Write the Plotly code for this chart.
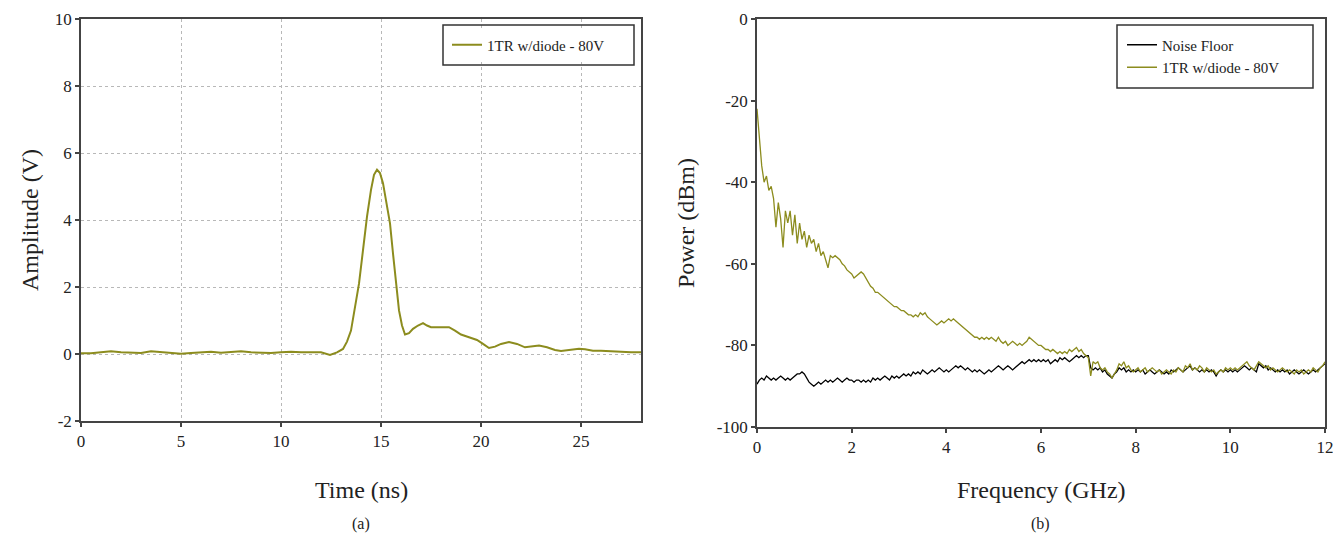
import plotly.graph_objects as go

# (a) time-domain pulse
time_ns = [0, 0.5, 1.0, 1.5, 2.0, 2.5, 3.0, 3.5, 4.0, 4.5, 5.0, 5.5, 6.0, 6.5, 7.0, 7.5, 8.0, 8.5, 9.0, 9.5,
           10.0, 10.5, 11.0, 11.5, 12.0, 12.45, 12.8, 13.1, 13.3, 13.5, 13.7, 13.9, 14.1, 14.3, 14.5,
           14.65, 14.8, 14.95, 15.1, 15.3, 15.45, 15.6, 15.75, 15.9, 16.05, 16.2, 16.4, 16.6, 16.85, 17.1,
           17.3, 17.5, 17.9, 18.4, 18.7, 19.0, 19.4, 19.8, 20.1, 20.4, 20.7, 21.0, 21.4, 21.8, 22.2,
           22.6, 22.9, 23.3, 23.7, 24.0, 24.4, 24.9, 25.2, 25.6, 26.0, 26.6, 27.0, 27.5, 28.0]
amplitude_v = [0.02, 0.02, 0.05, 0.08, 0.05, 0.03, 0.03, 0.08, 0.05, 0.03, 0.01, 0.03, 0.05, 0.07, 0.04,
               0.05, 0.08, 0.05, 0.03, 0.03, 0.05, 0.07, 0.05, 0.05, 0.05, -0.03, 0.05, 0.15, 0.37, 0.7,
               1.4, 2.1, 3.1, 4.1, 4.9, 5.35, 5.5, 5.4, 5.1, 4.4, 3.9, 3.0, 2.2, 1.3, 0.85,
               0.58, 0.62, 0.75, 0.85, 0.92, 0.85, 0.8, 0.8, 0.8, 0.7, 0.58, 0.5, 0.42, 0.3, 0.18,
               0.22, 0.3, 0.36, 0.3, 0.2, 0.22, 0.25, 0.2, 0.12, 0.09, 0.12, 0.16, 0.14, 0.1, 0.1,
               0.09, 0.07, 0.05, 0.05]
time_ticks = [0, 5, 10, 15, 20, 25]
amp_ticks = [-2, 0, 2, 4, 6, 8, 10]

# (b) spectrum, sampled every 0.05 GHz from 0 to 12 GHz
freq_ghz = [round(i * 0.05, 2) for i in range(241)]
pulse_dbm = [
    -22, -30, -36, -40, -38.5, -42, -41, -44, -51, -45, -49, -56, -47, -50, -47, -53, -48, -55, -50, -54,
    -52, -56, -53, -55, -54, -57, -55, -58, -57, -59, -61, -58, -58.5, -58, -58.5, -59, -60, -60.5, -61.5, -62,
    -62.5, -63.5, -63, -62.5, -62, -62.5, -63.5, -64.5, -65.5, -66, -67, -67, -67.5, -68, -68.5, -69, -69.5, -70, -70.5, -70.5,
    -71, -71.5, -71.5, -72, -72.5, -72.5, -73, -72.5, -73, -72, -72.5, -72, -73, -73.5, -74, -74.5, -75, -74.5, -74, -74.5,
    -74, -73.5, -74, -73.5, -74, -74.5, -75, -75.5, -76, -76.5, -77, -77.5, -78, -78, -78.5, -78, -78.5, -78, -78.5, -78,
    -78.5, -79, -78, -79, -79.5, -79, -80, -79.5, -79, -79.5, -80, -79.5, -80, -79.5, -79, -78, -78.5, -79, -79.5, -80,
    -80, -80.5, -81, -81, -81.5, -81, -81.5, -82, -81.5, -82, -81.5, -82, -81, -81.5, -81, -80.5, -81.5, -81, -82, -82.5,
    -83, -87.5, -84, -84.5, -84, -85.5, -86, -85.5, -86.5, -87, -88, -87, -86, -84.5, -85, -84, -85.5, -85, -86, -86.5,
    -86, -85.5, -86.5, -86, -85.5, -86.5, -86, -85.5, -86, -86.5, -86, -87, -86.5, -86, -86.5, -87, -86, -86.5, -85.5, -86,
    -86.5, -85, -85.5, -84.5, -86, -85.5, -86, -85, -85.5, -86.5, -85.5, -86, -86.5, -86, -87, -86.5, -86, -86.5, -85.5, -86,
    -85.5, -86, -85.5, -86, -85.5, -85, -84.5, -84, -85, -85.5, -86, -85, -84, -84.5, -85, -85.5, -85, -86, -85.5, -86,
    -86.5, -86, -85.5, -86, -86.5, -86, -86.5, -87, -86, -86.5, -86, -87, -86.5, -86, -86.5, -85.5, -86, -86.5, -85.5, -85,
    -84]
noise_dbm = [
    -89.5, -88.5, -88, -88.5, -87.5, -88, -88.5, -88, -88.5, -88, -87.5, -88, -88.5, -88, -88.5, -88, -87.5, -87, -87, -86.5,
    -87, -88, -89, -89.5, -90, -89.5, -89, -89.5, -89, -88.5, -89, -88.5, -89, -88.5, -88, -88.5, -89, -88.5, -88, -88.5,
    -88.5, -89, -88.5, -88.5, -89, -88.5, -89, -88.5, -89, -88, -88.5, -88, -88.5, -88, -87.5, -88, -88.5, -87.5, -88, -87.5,
    -88, -87.5, -87, -87.5, -87, -87.5, -86.5, -87, -86.5, -87, -86, -86.5, -87, -86.5, -86, -86.5, -86, -85.5, -86, -86.5,
    -86, -86.5, -86, -85.5, -85, -85.5, -85, -85.5, -86, -85.5, -86, -86.5, -86, -86.5, -86, -86.5, -87, -86.5, -86, -86.5,
    -86, -85.5, -85, -85.5, -86, -85.5, -85, -85.5, -86, -85.5, -85, -84.5, -84, -84.5, -84, -83.5, -84, -83.5, -84, -83.5,
    -84, -83.5, -84, -83.5, -84.5, -84, -83.5, -84, -83, -83.5, -83, -83.5, -84, -83.5, -83, -82.5, -83, -82.5, -83, -82.5,
    -82.5, -85.5, -86, -85.5, -86, -85.5, -86.5, -86, -87, -87.5, -88, -87, -86.5, -85.5, -86, -85.5, -86.5, -86, -86.5, -86,
    -86.5, -86, -86.5, -86, -87, -86.5, -86, -86.5, -87, -86.5, -86, -86.5, -87, -86.5, -87, -86, -86.5, -86, -85.5, -86,
    -86.5, -86, -85.5, -85, -86, -85.5, -86, -86.5, -86, -86.5, -86, -86.5, -86, -86.5, -87.5, -86.5, -86, -86.5, -86, -86.5,
    -86, -86.5, -86, -86.5, -86, -85.5, -85, -85.5, -86, -85.5, -86, -86.5, -84.5, -85, -85.5, -85, -86, -85.5, -86, -86.5,
    -86, -86.5, -86, -86.5, -86, -87, -86.5, -86, -86.5, -87, -86.5, -86, -86.5, -87, -86.5, -86, -86.5, -86, -85.5, -85,
    -84.5]
freq_ticks = [0, 2, 4, 6, 8, 10, 12]
power_ticks = [-100, -80, -60, -40, -20, 0]

OLIVE = '#8c8c1e'
FONT = 'Liberation Serif'
W, H = 1333, 539


def px_x(p):
    return p / W


def px_y(p):
    return 1 - p / H


fig = go.Figure()
fig.add_trace(go.Scatter(x=time_ns, y=amplitude_v, mode='lines', name='1TR w/diode - 80V', showlegend=True,
                         line=dict(color=OLIVE, width=2), xaxis='x', yaxis='y', legend='legend'))
fig.add_trace(go.Scatter(x=freq_ghz, y=noise_dbm, mode='lines', name='Noise Floor', showlegend=True,
                         line=dict(color='black', width=1.3), xaxis='x2', yaxis='y2', legend='legend2'))
fig.add_trace(go.Scatter(x=freq_ghz, y=pulse_dbm, mode='lines', name='1TR w/diode - 80V', showlegend=True,
                         line=dict(color=OLIVE, width=1.3), xaxis='x2', yaxis='y2', legend='legend2'))

axis_common = dict(showline=True, linecolor='#444', linewidth=1.5, mirror=True, ticks='outside',
                   ticklen=4, tickcolor='#444', tickwidth=1.5, zeroline=False, automargin=False,
                   ticklabeloverflow='allow',
                   tickfont=dict(family=FONT, size=17, color='#222'))
grid = dict(showgrid=True, gridcolor='#b8b8b8', griddash='dot', gridwidth=1)


def ticks(vals):
    return dict(tickvals=vals, ticktext=[str(v) for v in vals])


legend_style = dict(borderwidth=0, bgcolor='white', xanchor='left', yanchor='middle',
                    font=dict(family=FONT, size=15, color='#222'), tracegroupgap=0)

fig.update_layout(
    width=W, height=H, autosize=False, showlegend=True,
    margin=dict(l=0, r=0, t=0, b=0),
    plot_bgcolor='white', paper_bgcolor='white',
    xaxis=dict(domain=[px_x(81), px_x(641)], range=[0, 28], anchor='y',
               **ticks(time_ticks), **axis_common, **grid),
    yaxis=dict(domain=[px_y(421), px_y(19)], range=[-2, 10], anchor='x',
               **ticks(amp_ticks), **axis_common, **grid),
    xaxis2=dict(domain=[px_x(757), px_x(1325)], range=[0, 12], anchor='y2', showgrid=False,
                **ticks(freq_ticks), **axis_common),
    yaxis2=dict(domain=[px_y(427), px_y(19)], range=[-100, 0], anchor='x2', showgrid=False,
                **ticks(power_ticks), **axis_common),
    legend=dict(x=px_x(447), y=px_y(45), **legend_style),
    legend2=dict(x=px_x(1122), y=px_y(56), **legend_style),
)

# legend frames (outline only, the legends themselves sit inside)
for x0, y0, x1, y1 in [(443, 25, 634, 65), (1117, 25, 1313, 88)]:
    fig.add_shape(type='rect', xref='paper', yref='paper', x0=px_x(x0), x1=px_x(x1),
                  y0=px_y(y1), y1=px_y(y0), line=dict(color='#333', width=1.5), layer='above')

notes = [
    ('Amplitude (V)', 30, 220, 24, -90),
    ('Time (ns)', 361, 490, 24, 0),
    ('(a)', 361, 524, 16, 0),
    ('Power (dBm)', 686, 223, 24, -90),
    ('Frequency (GHz)', 1041, 490, 24, 0),
    ('(b)', 1040, 524, 16, 0),
]
for text, x, y, size, angle in notes:
    fig.add_annotation(text=text, x=px_x(x), y=px_y(y), xref='paper', yref='paper',
                       showarrow=False, textangle=angle, xanchor='center', yanchor='middle',
                       font=dict(family=FONT, size=size, color='#222'))

fig.write_html("out.html", config={'displayModeBar': False},
               post_script="document.body.style.margin='0';")
